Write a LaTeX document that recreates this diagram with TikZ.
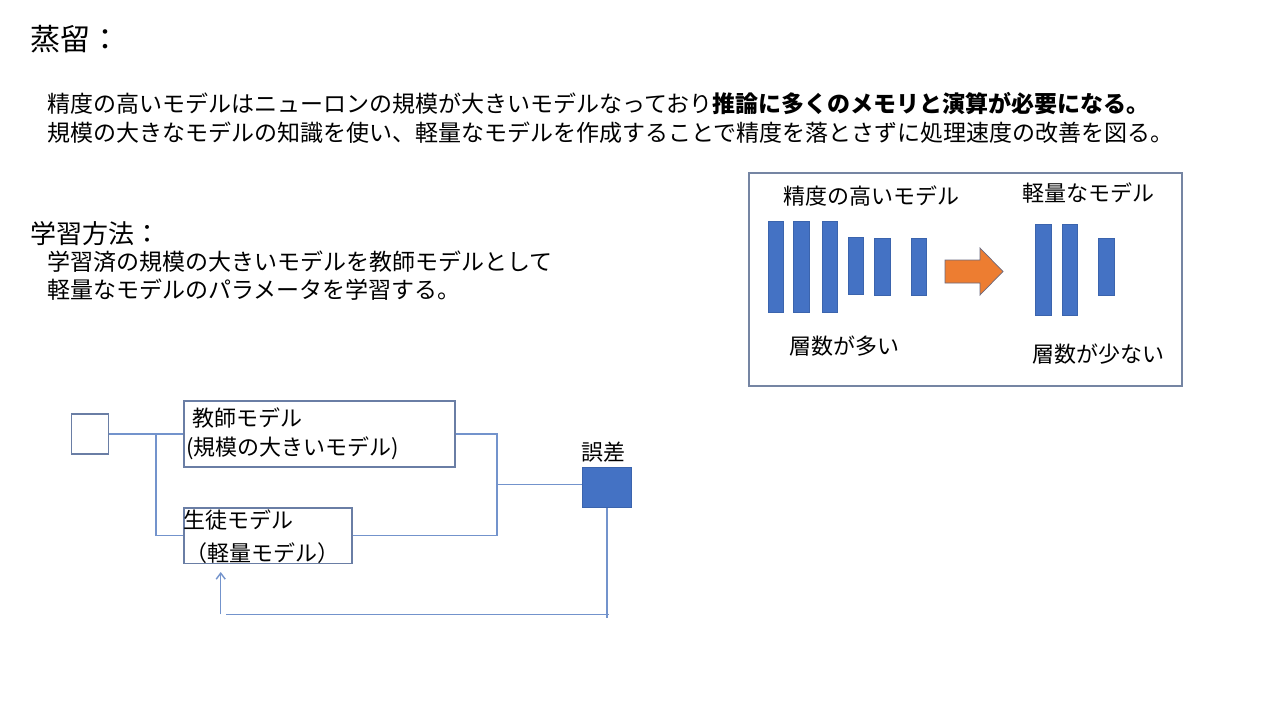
\documentclass[tikz,border=0pt]{standalone}
\usepackage{fontspec}
\setmainfont{Noto Sans CJK JP}
\usetikzlibrary{arrows.meta}
\definecolor{barblue}{HTML}{4472C4}
\definecolor{baredge}{HTML}{3B64AD}
\definecolor{connblue}{HTML}{7393CC}
\definecolor{boxedge}{HTML}{6A7EA5}
\definecolor{paneledge}{HTML}{7585A3}
\definecolor{arroworange}{HTML}{ED7D31}
\definecolor{arrowedge}{HTML}{6A6A80}
\tikzset{
  txt/.style={anchor=west,inner sep=0pt,text=black},
  ctxt/.style={anchor=center,inner sep=0pt,text=black},
  blockbox/.style={draw=boxedge,line width=1.4pt,rectangle,inner sep=0pt},
  conn/.style={draw=connblue,line width=1.4pt},
  bar/.style={fill=barblue,draw=baredge,line width=0.6pt},
  fs/.style={font=\fontsize{#1}{#1}\selectfont}
}
\begin{document}
\begin{tikzpicture}[x=1pt,y=-1pt]
\useasboundingbox[fill=white] (0,0) rectangle (1280,720);

% title and text
\node[txt,fs=30] (title) at (30,39) {蒸留：};
\node[txt,fs=23] (l1) at (47,104) {精度の高いモデルはニューロンの規模が大きいモデルなっており\textbf{推論に多くのメモリと演算が必要になる。}};
\node[txt,fs=23] (l2) at (47,133) {規模の大きなモデルの知識を使い、軽量なモデルを作成することで精度を落とさずに処理速度の改善を図る。};
\node[txt,fs=26] (method) at (30,234) {学習方法：};
\node[txt,fs=23] (m1) at (47,262) {学習済の規模の大きいモデルを教師モデルとして};
\node[txt,fs=23] (m2) at (47,290) {軽量なモデルのパラメータを学習する。};

% right panel
\node[draw=paneledge,line width=1.3pt,minimum width=433pt,minimum height=213pt,inner sep=0pt] (panel) at (965.5,279.5) {};
\node[ctxt,fs=22] (big) at (871,196) {精度の高いモデル};
\node[ctxt,fs=22] (small) at (1088,193) {軽量なモデル};
\node[ctxt,fs=22] (many) at (844,346) {層数が多い};
\node[ctxt,fs=22] (few) at (1098,354) {層数が少ない};
\draw[bar] (768,221) rectangle (783,312);
\draw[bar] (793,221) rectangle (809,312);
\draw[bar] (822,221) rectangle (837,312);
\draw[bar] (848,237) rectangle (863,294);
\draw[bar] (874,238) rectangle (890,295);
\draw[bar] (911,238) rectangle (926,295);
\draw[bar] (1035,224) rectangle (1051,315);
\draw[bar] (1062,224) rectangle (1077,315);
\draw[bar] (1098,238) rectangle (1114,295);
\draw[fill=arroworange,draw=arrowedge,line width=0.7pt]
  (945,260) -- (980,260) -- (980,248) -- (1003,271.5) -- (980,295) -- (980,283) -- (945,283) -- cycle;

% block diagram
\node[blockbox,minimum width=36.6pt,minimum height=40pt] (in) at (90,434) {};
\node[blockbox,minimum width=271pt,minimum height=66pt] (teach) at (319.5,434) {};
\node[blockbox,minimum width=168pt,minimum height=55.5pt] (stud) at (268,535.75) {};
\node[fill=barblue,draw=baredge,line width=1pt,minimum width=48.3pt,minimum height=40pt,inner sep=0pt] (err) at (606.85,487.7) {};

\node[txt,fs=22] (t1) at (192,418) {教師モデル};
\node[txt,fs=22] (t2) at (186,448) {(規模の大きいモデル)};
\node[txt,fs=22] (s1) at (183,520) {生徒モデル};
\node[txt,fs=22] (s2) at (185,553) {（軽量モデル）};
\node[ctxt,fs=22] (errlbl) at (603,452) {誤差};

\coordinate (j1) at (156,434);
\coordinate (j2) at (497,535.75);
\coordinate (j3) at (497,484.3);
\coordinate (eb) at (606.85,618);
\coordinate (h1) at (608.7,614.3);
\coordinate (h2) at (225.7,614.3);
\coordinate (a0) at (220.7,614.3);
\coordinate (a1) at (220.7,572);

\draw[conn] (in.east) -- (teach.west);
\draw[conn] (j1) |- (stud.west);
\draw[conn] (teach.east) -| (j2);
\draw[conn] (stud.east) -- (j2);
\draw[conn] (j3) -- (j3 -| err.west);
\draw[conn] (err.south) -- (eb);
\draw[conn] (h1) -- (h2);
\draw[conn,-{Straight Barb[length=6pt,width=9pt]}] (a0) -- (a1);
\end{tikzpicture}
\end{document}
